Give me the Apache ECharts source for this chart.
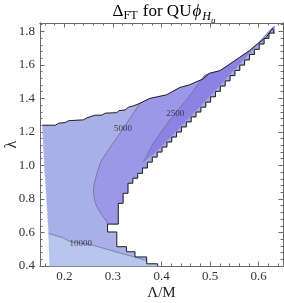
<!DOCTYPE html>
<html>
<head>
<meta charset="utf-8">
<script src="https://cdn.jsdelivr.net/npm/echarts@6/dist/echarts.min.js"></script>
<style>html,body{margin:0;padding:0;background:#fff;}#c{width:284px;height:303px;}</style>
</head>
<body>
<div id="c"></div>
<script>
// ---- data (Λ/M , λ) ----
const xMajor = [0.2, 0.3, 0.4, 0.5, 0.6];
const xMinor = [0.16,0.18,0.22,0.24,0.26,0.28,0.32,0.34,0.36,0.38,0.42,0.44,0.46,0.48,0.52,0.54,0.56,0.58,0.62,0.64];
const yMajor = [0.4, 0.6, 0.8, 1.0, 1.2, 1.4, 1.6, 1.8];
const yMinor = [0.44,0.48,0.52,0.56,0.64,0.68,0.72,0.76,0.84,0.88,0.92,0.96,1.04,1.08,1.12,1.16,1.24,1.28,1.32,1.36,1.44,1.48,1.52,1.56,1.64,1.68,1.72,1.76,1.84];

const leftEdge = [[0.1705,0.40],[0.168,0.594],[0.159,1.00],[0.155,1.24]];
const topEdge = [[0.155,1.240],[0.1816,1.240],[0.1883,1.252],[0.202,1.256],[0.2088,1.267],[0.2395,1.272],[0.2465,1.284],[0.2635,1.300],[0.2773,1.300],[0.284,1.312],[0.308,1.315],[0.3127,1.327],[0.325,1.331],[0.3318,1.347],[0.342,1.355],[0.3557,1.371],[0.376,1.400],[0.410,1.421],[0.4377,1.465],[0.458,1.481],[0.4684,1.495],[0.485,1.515],[0.499,1.550],[0.5197,1.565],[0.533,1.590],[0.5607,1.645],[0.581,1.685],[0.595,1.720],[0.6154,1.765],[0.629,1.819],[0.632,1.830]];
const stairStart = [0.311, 0.65];
const stairSteps = [[0.311,0.774],[0.321,0.834],[0.331,0.894],[0.341,0.924],[0.351,0.953],[0.361,0.985],[0.371,1.020],[0.381,1.050],[0.391,1.080],[0.401,1.110],[0.411,1.140],[0.421,1.170],[0.431,1.200],[0.441,1.230],[0.451,1.260],[0.461,1.290],[0.471,1.319],[0.481,1.348],[0.491,1.378],[0.501,1.410],[0.511,1.442],[0.521,1.474],[0.531,1.505],[0.541,1.536],[0.551,1.567],[0.561,1.599],[0.571,1.630],[0.581,1.662],[0.591,1.693],[0.601,1.725],[0.611,1.758],[0.621,1.790],[0.632,1.830]];
const notchEdge = [[0.311,0.65],[0.289,0.65],[0.289,0.603],[0.308,0.603],[0.308,0.515],[0.328,0.515],[0.328,0.485],[0.3455,0.485],[0.3455,0.454],[0.3695,0.454],[0.3695,0.413],[0.392,0.413],[0.392,0.40]];
const bottomEdge = [[0.1705,0.40]];
const line10000 = [[0.168,0.594],[0.196,0.570],[0.2123,0.545],[0.2574,0.525],[0.366,0.436],[0.3695,0.433]];
const line5000 = [[0.3557,1.371],[0.3165,1.200],[0.2908,1.093],[0.2773,1.033],[0.2738,1.013],[0.268,0.960],[0.2635,0.913],[0.2605,0.870],[0.260,0.834],[0.2625,0.790],[0.267,0.754],[0.276,0.710],[0.2875,0.664],[0.289,0.651]];
const line2500 = [[0.363,1.022],[0.366,1.033],[0.383,1.133],[0.417,1.272],[0.4514,1.391],[0.4889,1.538],[0.497,1.548]];
const innerEdge = [[0.363,1.022],[0.381,1.065],[0.401,1.12],[0.441,1.24],[0.501,1.42],[0.561,1.61],[0.601,1.735],[0.621,1.80],[0.630,1.826]];
const labelText = ['10000', '5000', '2500'];
const labelX = [0.234, 0.321, 0.4285];
const labelY = [0.531, 1.221, 1.307];

// ---- geometry built from data ----
const stairVerts = [stairStart.slice()];
let prevY = stairStart[1];
stairSteps.forEach(([x, y]) => { stairVerts.push([x, prevY]); stairVerts.push([x, y]); prevY = y; });

const outerPoly = leftEdge.concat(topEdge, stairVerts.slice().reverse(), notchEdge, bottomEdge);
const bottomPoly = line10000.concat([[0.3695,0.413],[0.392,0.413],[0.392,0.40],[0.1705,0.40]]);
const mediumPoly = line5000.concat(stairVerts, topEdge.filter(p => p[0] > 0.3557).reverse());
const darkPoly = line2500.concat(topEdge.filter(p => p[0] > 0.497), innerEdge.slice().reverse());
const teethPoly = innerEdge.concat(stairVerts.filter(p => p[1] >= 1.02).reverse());
const boundary = topEdge.concat(stairVerts.slice().reverse(), notchEdge);

const SERIF = 'Liberation Serif';
const FRAME = '#6a6a6a';

function poly(points, color, z) {
  return {
    type: 'custom', xAxisIndex: 0, yAxisIndex: 0, silent: true, z: z,
    data: [points[0]],
    renderItem: (params, api) => ({
      type: 'polygon',
      shape: { points: points.map(p => api.coord(p)) },
      style: { fill: color, stroke: color, lineWidth: 0.4 }
    })
  };
}
function line(points, color, width, z) {
  return { type: 'line', xAxisIndex: 0, yAxisIndex: 0, data: points, symbol: 'none', showSymbol: false,
    silent: true, z: z, lineStyle: { color: color, width: width }, animation: false };
}

function xAx(grid, pos, vals, len, labels) {
  return {
    gridIndex: grid, type: 'value', min: 0.15, max: 0.65, position: pos,
    axisLine: { show: true, onZero: false, lineStyle: { color: FRAME, width: 1 } },
    axisTick: { show: true, inside: true, length: len, customValues: vals, lineStyle: { color: FRAME, width: 1 } },
    axisLabel: labels ? { show: true, customValues: vals, formatter: v => v.toFixed(1), color: '#333', fontFamily: SERIF, fontSize: 13, margin: 4 } : { show: false },
    splitLine: { show: false },
    name: labels ? 'Λ/M' : '', nameLocation: 'middle', nameGap: 20, nameMoveOverlap: false,
    nameTextStyle: { fontFamily: SERIF, fontSize: 15, color: '#222' }
  };
}
function yAx(grid, pos, vals, len, labels) {
  return {
    gridIndex: grid, type: 'value', min: 0.4, max: 1.85, position: pos,
    axisLine: { show: true, onZero: false, lineStyle: { color: FRAME, width: 1 } },
    axisTick: { show: true, inside: true, length: len, customValues: vals, lineStyle: { color: FRAME, width: 1 } },
    axisLabel: labels ? { show: true, customValues: vals, formatter: v => v.toFixed(1), color: '#333', fontFamily: SERIF, fontSize: 13, margin: 5 } : { show: false },
    splitLine: { show: false },
    name: labels ? 'λ' : '', nameLocation: 'middle', nameGap: 20, nameRotate: 90, nameMoveOverlap: false,
    nameTextStyle: { fontFamily: SERIF, fontSize: 16, color: '#222' }
  };
}

const chart = echarts.init(document.getElementById('c'), null, { renderer: 'canvas' });
chart.setOption({
  animation: false,
  backgroundColor: '#fff',
  grid: [
    { left: 40, right: 1, top: 23, bottom: 37, outerBoundsMode: 'none', containLabel: false },
    { left: 40, right: 1, top: 23, bottom: 37, outerBoundsMode: 'none', containLabel: false }
  ],
  xAxis: [xAx(0, 'bottom', xMajor, 4.5, true), xAx(0, 'top', xMajor, 4.5, false),
          xAx(1, 'bottom', xMinor, 2.5, false), xAx(1, 'top', xMinor, 2.5, false)],
  yAxis: [yAx(0, 'left', yMajor, 4.5, true), yAx(0, 'right', yMajor, 4.5, false),
          yAx(1, 'left', yMinor, 2.5, false), yAx(1, 'right', yMinor, 2.5, false)],
  graphic: [{
    type: 'text', x: 164, y: 3,
    style: {
      text: '{m|Δ}{s|FT}{m| for QU}{i|ϕ}{h|H}{u|u}',
      align: 'center', verticalAlign: 'top',
      rich: {
        m: { fontFamily: SERIF, fontSize: 17, color: '#222', verticalAlign: 'bottom', padding: [0, 0, 5, 0] },
        s: { fontFamily: SERIF, fontSize: 12, color: '#222', verticalAlign: 'bottom', padding: [0, 1, 3, 0] },
        i: { fontFamily: SERIF, fontSize: 17, fontStyle: 'italic', color: '#222', verticalAlign: 'bottom', padding: [0, 0, 5, 1] },
        h: { fontFamily: SERIF, fontSize: 12, fontStyle: 'italic', color: '#222', verticalAlign: 'bottom', padding: [0, 0, 2, 1] },
        u: { fontFamily: SERIF, fontSize: 9, fontStyle: 'italic', color: '#222', verticalAlign: 'bottom', padding: [0, 0, 0, 0] }
      }
    }
  }],
  series: [
    poly(outerPoly, '#a9afe7', 1),
    poly(bottomPoly, '#b7c6ec', 2),
    poly(mediumPoly, '#9b99e7', 3),
    poly(darkPoly, '#8b83e3', 4),
    poly(teethPoly, '#a6a9e9', 5),
    line(line10000, '#70709c', 0.8, 6),
    line(line5000, '#70709c', 0.8, 6),
    line(line2500, '#70709c', 0.8, 6),
    line(innerEdge, '#8080b0', 0.8, 6),
    line(boundary, '#222222', 1, 7),
    {
      type: 'scatter', xAxisIndex: 0, yAxisIndex: 0, symbolSize: 0, silent: true, z: 8,
      data: labelX.map((x, i) => ({ value: [x, labelY[i]], label: { formatter: labelText[i] } })),
      label: { show: true, position: 'inside', fontFamily: SERIF, fontSize: 9, color: '#222' }
    }
  ]
});
</script>
</body>
</html>
